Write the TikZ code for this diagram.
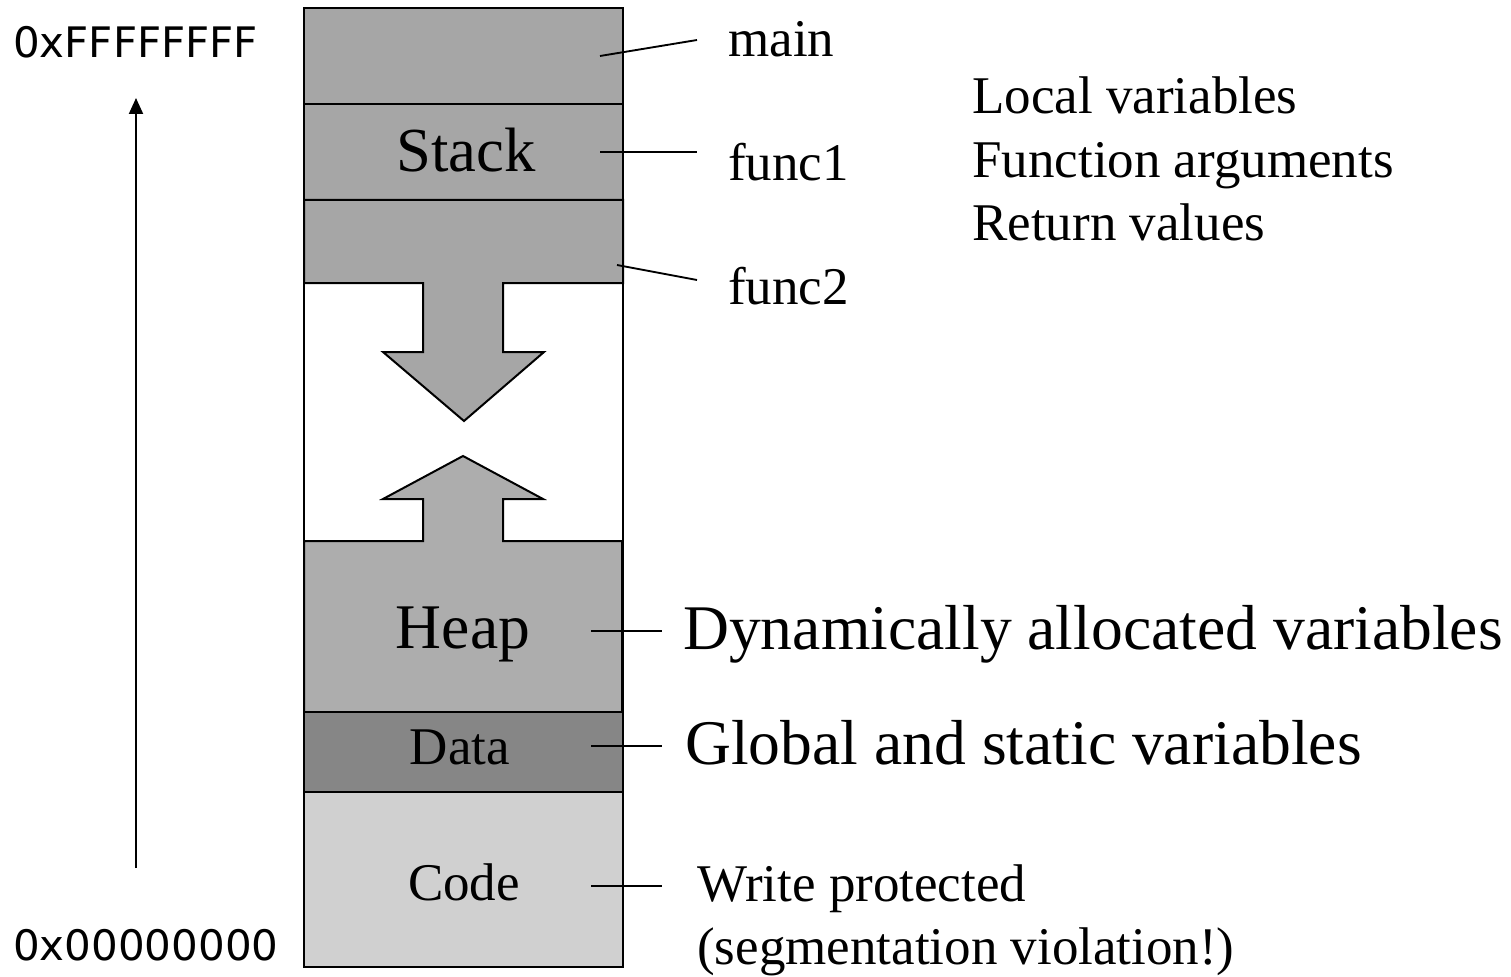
\documentclass[tikz,border=0pt]{standalone}
\usepackage{fontspec}
\setmainfont{Liberation Serif}
\newfontfamily\addrfont{DejaVu Sans}
\usetikzlibrary{arrows.meta}
\definecolor{stackgray}{RGB}{166,166,166}
\definecolor{heapgray}{RGB}{173,173,173}
\definecolor{datagray}{RGB}{134,134,134}
\definecolor{codegray}{RGB}{208,208,208}
\tikzset{
  seg/.style={draw=black, line width=1.5pt, line join=miter},
  leader/.style={draw=black, line width=1.4pt},
  lbl/.style={anchor=base west, inner sep=0pt, font=\fontsize{39.75}{40}\selectfont},
  biglbl/.style={anchor=base west, inner sep=0pt, font=\fontsize{47.7}{48}\selectfont},
  seglbl/.style={anchor=base, inner sep=0pt},
  addr/.style={anchor=base west, inner sep=0pt, font=\addrfont\fontsize{31.5}{32}\selectfont},
}
\begin{document}
\begin{tikzpicture}[x=0.75pt,y=-0.75pt]
\useasboundingbox (0,0) rectangle (1511,977);
% segments
\path[seg, fill=stackgray] (304,8) rectangle (623,104);
\path[seg, fill=stackgray] (304,104) rectangle (623,200);
\path[seg, fill=stackgray] (304,200) -- (623,200) -- (623,283) -- (503,283) -- (503,352) -- (544,352) -- (464,421) -- (383,352) -- (423,352) -- (423,283) -- (304,283) -- cycle;
\path[seg, fill=heapgray] (304,712) -- (304,541) -- (423,541) -- (423,499) -- (383,499) -- (463,456) -- (543,499) -- (503,499) -- (503,541) -- (622,541) -- (622,712) -- cycle;
\path[seg, fill=datagray] (304,712) rectangle (623,792);
\path[seg, fill=codegray] (304,792) rectangle (623,967);
\draw[seg] (304,8) rectangle (623,967);
% segment labels
\node[seglbl, font=\fontsize{47}{48}\selectfont] (stack) at (466,172) {Stack};
\node[seglbl, font=\fontsize{47.7}{48}\selectfont] (heap) at (463,648) {Heap};
\node[seglbl, font=\fontsize{39.75}{40}\selectfont] (data) at (460,764) {Data};
\node[seglbl, font=\fontsize{39.75}{40}\selectfont] (code) at (464,900) {Code};
% right labels
\node[lbl] (main) at (728,57) {main};
\node[lbl] (func1) at (728,181) {func1};
\node[lbl] (func2) at (728,305) {func2};
\node[lbl] (local) at (972,114) {Local variables};
\node[lbl] (args) at (972,178) {Function arguments};
\node[lbl] (ret) at (972,241) {Return values};
\node[biglbl] (dyn) at (683,649) {Dynamically allocated variables};
\node[biglbl] (glob) at (685,764) {Global and static variables};
\node[lbl] (wp) at (697,901) {Write protected};
\node[lbl] (segv) at (697,964) {(segmentation violation!)};
% leader lines
\coordinate (m1) at (600,56);  \coordinate (m2) at (697,40);
\coordinate (f11) at (600,152); \coordinate (f12) at (697,152);
\coordinate (f21) at (617,265); \coordinate (f22) at (697,280);
\coordinate (h1) at (591,631); \coordinate (h2) at (662,631);
\coordinate (d1) at (591,746); \coordinate (d2) at (662,746);
\coordinate (c1) at (591,886); \coordinate (c2) at (662,886);
\draw[leader] (m1) -- (m2);
\draw[leader] (f11) -- (f12);
\draw[leader] (f21) -- (f22);
\draw[leader] (h1) -- (h2);
\draw[leader] (d1) -- (d2);
\draw[leader] (c1) -- (c2);
% address axis
\node[addr] (top) at (13,58) {0xFFFFFFFF};
\node[addr] (bot) at (13,960) {0x00000000};
\coordinate (a1) at (136,868); \coordinate (a2) at (136,98);
\draw[line width=1.5pt, -{Triangle[width=10.5pt,length=12pt]}] (a1) -- (a2);
\end{tikzpicture}
\end{document}
